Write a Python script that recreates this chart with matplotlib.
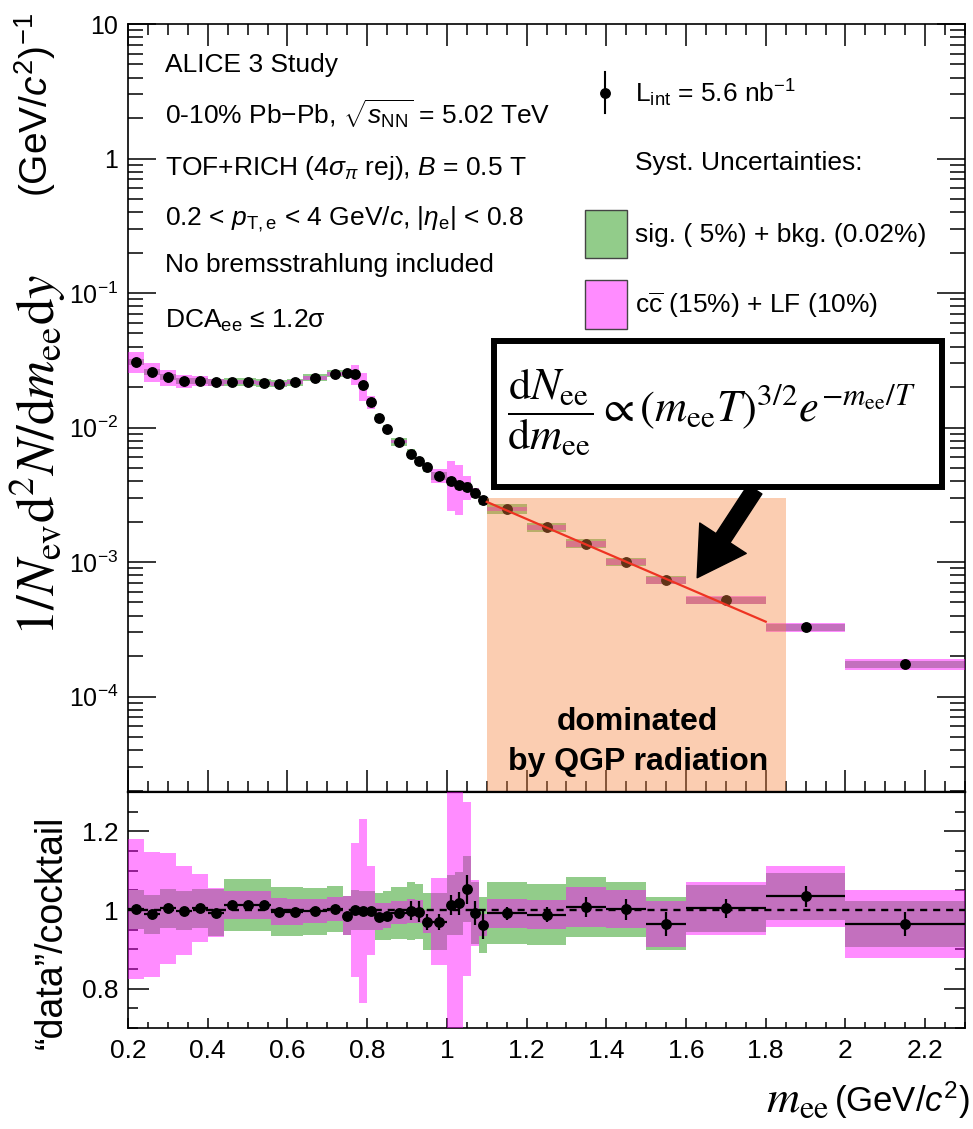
import numpy as np
import matplotlib
matplotlib.use('Agg')
import matplotlib.pyplot as plt
from matplotlib.patches import Rectangle
from matplotlib.ticker import FixedLocator, MultipleLocator, FuncFormatter, NullFormatter

plt.rcParams['font.family'] = ['Liberation Sans', 'DejaVu Sans']
plt.rcParams['mathtext.fontset'] = 'custom'
plt.rcParams['mathtext.rm'] = 'Liberation Sans'
plt.rcParams['mathtext.it'] = 'Liberation Sans:italic'
plt.rcParams['mathtext.bf'] = 'Liberation Sans:bold'
plt.rcParams['mathtext.sf'] = 'Liberation Sans'

# invariant-mass bins (GeV/c^2)
bin_edges = [0.20, 0.24, 0.28, 0.32, 0.36, 0.40, 0.44, 0.48, 0.52, 0.56, 0.60,
             0.64, 0.70, 0.74, 0.76, 0.78, 0.80, 0.82, 0.84, 0.86, 0.90, 0.92,
             0.94, 0.96, 1.00, 1.02, 1.04, 1.06, 1.08, 1.10, 1.20, 1.30, 1.40,
             1.50, 1.60, 1.80, 2.00, 2.30]

# 1/N_ev d2N/dm_ee dy
spectrum = [0.0308, 0.0260, 0.0236, 0.0222, 0.0222, 0.0217, 0.0218, 0.0218,
            0.0214, 0.0212, 0.0217, 0.0234, 0.0251, 0.0253, 0.0250, 0.0206,
            0.0155, 0.0118, 0.00975, 0.00785, 0.00639, 0.00566, 0.00508,
            0.00438, 0.00400, 0.00373, 0.00363, 0.00326, 0.00288, 0.00248,
            0.00181, 0.00137, 0.00100, 0.000734, 0.000521, 0.000327, 0.000173]

# "data"/cocktail
ratio = [1.002, 0.989, 1.004, 0.998, 1.004, 0.993, 1.013, 1.013, 1.013, 0.996,
         0.996, 0.997, 1.003, 0.986, 1.000, 0.998, 0.998, 0.983, 0.986, 0.993,
         0.998, 0.996, 0.970, 0.970, 1.013, 1.017, 1.053, 0.992, 0.962, 0.992,
         0.988, 1.008, 1.002, 0.965, 1.004, 1.035, 0.965]

# relative statistical uncertainty
stat_err = [0.004, 0.004, 0.004, 0.004, 0.004, 0.004, 0.004, 0.004, 0.004,
            0.004, 0.004, 0.005, 0.006, 0.006, 0.006, 0.006, 0.007, 0.010,
            0.010, 0.010, 0.024, 0.026, 0.021, 0.021, 0.025, 0.028, 0.035,
            0.030, 0.036, 0.017, 0.020, 0.025, 0.027, 0.032, 0.025, 0.026, 0.032]

# relative systematics: signal + background
sys_sig = [0.05, 0.05, 0.05, 0.05, 0.05, 0.06, 0.066, 0.066, 0.065, 0.063,
           0.062, 0.060, 0.059, 0.050, 0.050, 0.050, 0.050, 0.060, 0.062,
           0.066, 0.074, 0.070, 0.075, 0.075, 0.075, 0.078, 0.080, 0.080,
           0.075, 0.080, 0.079, 0.076, 0.070, 0.070, 0.060, 0.058, 0.060]

# relative systematics: ccbar + light flavour cocktail
sys_cocktail = [0.178, 0.160, 0.140, 0.113, 0.086, 0.063, 0.036, 0.036, 0.035,
                0.035, 0.033, 0.030, 0.030, 0.050, 0.170, 0.235, 0.113, 0.035,
                0.033, 0.030, 0.030, 0.030, 0.030, 0.114, 0.400, 0.400, 0.210,
                0.084, 0.030, 0.037, 0.037, 0.050, 0.048, 0.060, 0.068, 0.075,
                0.090]

# thermal fit line and QGP-dominated window
fit_mass = [1.10, 1.80]
fit_yield = [2.8e-3, 3.6e-4]
qgp_mass = [1.10, 1.85]
qgp_top = 3.0e-3

edges = np.array(bin_edges)
centers = 0.5 * (edges[:-1] + edges[1:])
widths = np.diff(edges)
spectrum = np.array(spectrum)
ratio = np.array(ratio)
stat_err = np.array(stat_err)
sys_sig = np.array(sys_sig)
sys_cocktail = np.array(sys_cocktail)

green = '#92cc8a'
magenta = '#ff00ff'
mag_alpha = 0.45

W, H = 973, 1129
fig = plt.figure(figsize=(W / 100, H / 100), dpi=100)
ax = fig.add_axes([128 / W, 1 - 792 / H, 837 / W, 768 / H])
axr = fig.add_axes([128 / W, 1 - 1028 / H, 837 / W, 236 / H])

# ---------------- spectrum ----------------
ax.set_yscale('log')
ax.set_xlim(0.2, 2.3)
ax.set_ylim(1.95e-5, 10)

ax.bar(centers, 2 * sys_sig * spectrum, bottom=spectrum * (1 - sys_sig),
       width=widths, color=green, lw=0, zorder=2)
ax.bar(centers, 2 * sys_cocktail * spectrum, bottom=spectrum * (1 - sys_cocktail),
       width=widths, color=magenta, alpha=mag_alpha, lw=0, zorder=3)
ax.errorbar(centers, spectrum, yerr=stat_err * spectrum, fmt='o', color='k',
            ms=6.8, elinewidth=1.5, capsize=0, zorder=5)

ax.fill_between(qgp_mass, 1.95e-5, qgp_top, color='#f5823c', alpha=0.4, lw=0, zorder=6)
ax.plot(fit_mass, fit_yield, color='#ee3322', lw=1.6, zorder=7)

ax.text(0.609, 0.0807, 'dominated', transform=ax.transAxes, ha='center',
        va='baseline', fontsize=23, fontweight='bold', zorder=8)
ax.text(0.609, 0.0286, 'by QGP radiation', transform=ax.transAxes, ha='center',
        va='baseline', fontsize=23, fontweight='bold', zorder=8)

# formula box with arrow
ax.add_patch(Rectangle((0.437, 0.3975), 0.535, 0.190, transform=ax.transAxes,
                       facecolor='white', edgecolor='black', lw=4.3, zorder=9))
ax.text(0.453, 0.495,
        r'$\dfrac{\mathrm{d}N_{\mathrm{ee}}}{\mathrm{d}m_{\mathrm{ee}}}'
        r' \propto (m_{\mathrm{ee}}T)^{3/2}e^{-m_{\mathrm{ee}}/T}$',
        transform=ax.transAxes, ha='left', va='center', fontsize=32,
        math_fontfamily='stix', zorder=10)
ax.annotate('', xy=(0.680, 0.279), xytext=(0.749, 0.394),
            xycoords='axes fraction', textcoords='axes fraction',
            arrowprops=dict(arrowstyle='simple,head_width=2.0,head_length=1.7,tail_width=0.6',
                            mutation_scale=20, color='black', shrinkA=0, shrinkB=0),
            zorder=10)

# info text
info = ['ALICE 3 Study',
        r'0-10% Pb$-$Pb, $\sqrt{s_{\mathrm{NN}}}$ = 5.02 TeV',
        r'TOF+RICH (4$\sigma_{\pi}$ rej), $B$ = 0.5 T',
        r'0.2 < $p_{\mathrm{T,e}}$ < 4 GeV/$c$, |$\eta_{\mathrm{e}}$| < 0.8',
        'No bremsstrahlung included',
        r'DCA$_{\mathrm{ee}}$ ≤ 1.2σ']
info_y = [0.9375, 0.8685, 0.8034, 0.7383, 0.6775, 0.604]
for txt, yy in zip(info, info_y):
    ax.text(0.044, yy, txt, transform=ax.transAxes, ha='left', va='baseline',
            fontsize=19)

# legend
ax.plot([0.570, 0.570], [0.884, 0.9375], color='k', lw=1.5, transform=ax.transAxes)
ax.plot([0.570], [0.910], 'o', color='k', ms=6.8, transform=ax.transAxes)
ax.text(0.606, 0.910, r'L$_{\mathrm{int}}$ = 5.6 nb$^{\mathrm{-1}}$', transform=ax.transAxes,
        ha='left', va='center', fontsize=19)
ax.text(0.606, 0.819, 'Syst. Uncertainties:', transform=ax.transAxes,
        ha='left', va='center', fontsize=19)
ax.add_patch(Rectangle((0.546, 0.695), 0.050, 0.063, transform=ax.transAxes,
                       facecolor=green, edgecolor='#444444', lw=1))
ax.text(0.606, 0.725, 'sig. ( 5%) + bkg. (0.02%)', transform=ax.transAxes,
        ha='left', va='center', fontsize=19)
ax.add_patch(Rectangle((0.546, 0.603), 0.050, 0.064, transform=ax.transAxes,
                       facecolor='#ff8cff', edgecolor='#444444', lw=1))
ax.text(0.606, 0.634, r'c$\overline{\mathrm{c}}$ (15%) + LF (10%)', transform=ax.transAxes,
        ha='left', va='center', fontsize=19)


def log_label(v, pos):
    e = int(round(np.log10(v)))
    if e == 1:
        return '10'
    if e == 0:
        return '1'
    return r'$10^{%d}$' % e


ax.yaxis.set_major_locator(FixedLocator([1e-4, 1e-3, 1e-2, 1e-1, 1, 10]))
ax.yaxis.set_major_formatter(FuncFormatter(log_label))
minors = [m * 10.0 ** e for e in range(-5, 1) for m in range(2, 10)]
ax.yaxis.set_minor_locator(FixedLocator(minors))
ax.yaxis.set_minor_formatter(NullFormatter())
ax.xaxis.set_major_locator(MultipleLocator(0.2))
ax.xaxis.set_minor_locator(MultipleLocator(0.05))
ax.tick_params(axis='both', which='both', direction='in', top=True, right=True,
               labelbottom=False, width=1.1, labelsize=18, pad=7)
ax.tick_params(axis='y', which='major', length=20)
ax.tick_params(axis='y', which='minor', length=11)
ax.tick_params(axis='x', which='major', length=16)
ax.tick_params(axis='x', which='minor', length=8)
for s in ax.spines.values():
    s.set_linewidth(1.2)
ax.spines['bottom'].set_linewidth(1.6)

# ---------------- ratio ----------------
axr.set_xlim(0.2, 2.3)
axr.set_ylim(0.7, 1.3)
axr.bar(centers, 2 * sys_sig * ratio, bottom=ratio * (1 - sys_sig),
        width=widths, color=green, lw=0, zorder=2)
axr.bar(centers, 2 * sys_cocktail * ratio, bottom=ratio * (1 - sys_cocktail),
        width=widths, color=magenta, alpha=mag_alpha, lw=0, zorder=3)
axr.axhline(1.0, color='k', lw=1.7, ls=(0, (3, 2.5)), zorder=4)
axr.errorbar(centers, ratio, xerr=widths / 2, yerr=stat_err * ratio, fmt='o',
             color='k', ms=6.8, elinewidth=1.6, capsize=0, zorder=5)

axr.xaxis.set_major_locator(MultipleLocator(0.2))
axr.xaxis.set_minor_locator(MultipleLocator(0.05))
axr.yaxis.set_major_locator(FixedLocator([0.8, 1.0, 1.2]))
axr.yaxis.set_minor_locator(MultipleLocator(0.05))
axr.xaxis.set_major_formatter(FuncFormatter(lambda v, p: '%g' % round(v, 2)))
axr.yaxis.set_major_formatter(FuncFormatter(lambda v, p: '%g' % round(v, 2)))
axr.tick_params(axis='both', which='both', direction='in', top=False, right=True,
                width=1.1, labelsize=19)
axr.tick_params(axis='x', which='major', length=7, pad=8)
axr.tick_params(axis='x', which='minor', length=4)
axr.tick_params(axis='y', which='major', length=15, pad=7)
axr.tick_params(axis='y', which='minor', length=7)
for s in axr.spines.values():
    s.set_linewidth(1.2)
axr.spines['top'].set_linewidth(1.6)

# axis titles
fig.text(58 / W, 1 - 13 / H, r'(GeV/$c^{2}$)$^{\mathrm{-1}}$', rotation=90,
         ha='right', va='top', fontsize=28)
fig.text(68 / W, 1 - 455 / H,
         r'$1/N_{\mathrm{ev}}\mathrm{d}^{2}N/\mathrm{d}m_{\mathrm{ee}}\mathrm{d}y$',
         rotation=90, ha='right', va='center', fontsize=38, math_fontfamily='stix')

fig.text(52 / W, 1 - 932 / H, '“data”/cocktail', rotation=90, ha='center',
         va='center', fontsize=27)

xlab_sans = fig.text(970 / W, 0.0153, r'(GeV/$c^{2}$)', ha='right', va='baseline',
                     fontsize=25)
ax.annotate(r'$m_{\mathrm{ee}}$', xy=(0, 0.0153),
            xycoords=(xlab_sans, 'figure fraction'), xytext=(-4, 0),
            textcoords='offset points', ha='right', va='baseline', fontsize=33,
            math_fontfamily='stix', annotation_clip=False)

fig.savefig('out.png', dpi=100)
